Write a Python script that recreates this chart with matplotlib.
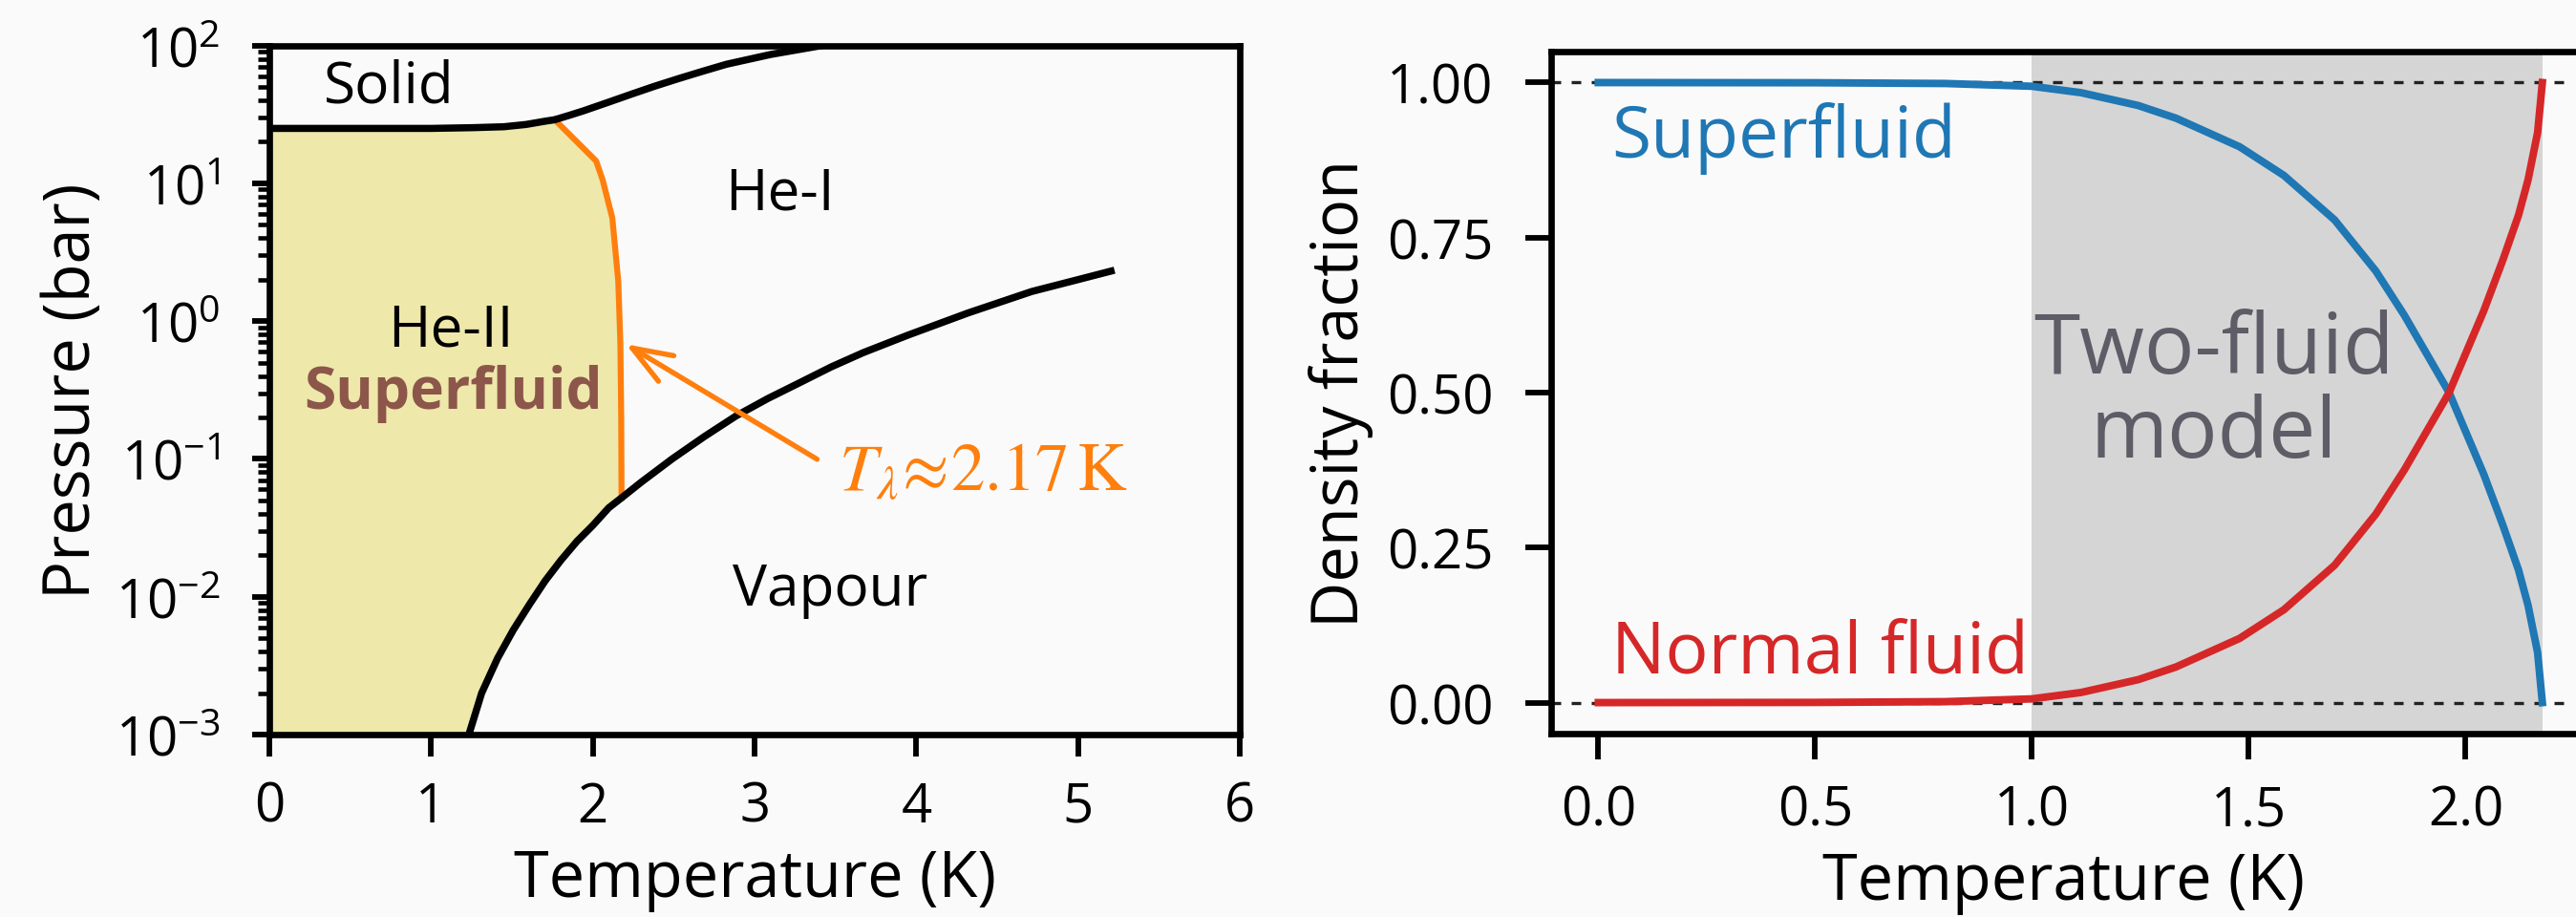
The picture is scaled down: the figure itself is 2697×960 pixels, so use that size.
import matplotlib
matplotlib.use('Agg')
import matplotlib.pyplot as plt
import numpy as np
from matplotlib.patches import Rectangle
from matplotlib.ticker import FormatStrFormatter

plt.rcParams['font.family'] = ['Open Sans', 'DejaVu Sans']
plt.rcParams['mathtext.fontset'] = 'custom'
plt.rcParams['mathtext.rm'] = 'Open Sans'
plt.rcParams['mathtext.it'] = 'Open Sans:italic'
plt.rcParams['mathtext.bf'] = 'Open Sans:bold'

# helium-4 phase boundaries
melt_T = [0.0, 0.5, 1.0, 1.253, 1.449, 1.587, 1.705, 1.764, 1.85, 1.941, 2.09, 2.236, 2.38,
          2.531, 2.68, 2.826, 3.1, 3.42, 3.6]
melt_P = [25.0, 25.0, 25.0, 25.3, 25.7, 26.7, 28.2, 28.9, 31.0, 33.5, 38.5, 44.2, 50.5,
          57.5, 65.0, 73.0, 86.0, 100.0, 108.0]

lambda_T = [1.764, 2.02, 2.06, 2.12, 2.157, 2.17, 2.175, 2.177]
lambda_P = [28.9, 14.5, 10.6, 5.6, 1.94, 0.68, 0.2, 0.0522]

vap_T = [1.233, 1.312, 1.41, 1.508, 1.607, 1.705, 1.803, 1.902, 2.0, 2.098, 2.177, 2.3, 2.491,
         2.688, 2.885, 3.081, 3.278, 3.475, 3.671, 3.947, 4.32, 4.714, 5.0, 5.225]
vap_P = [1.0e-3, 2.0e-3, 3.57e-3, 5.75e-3, 8.77e-3, 0.01306, 0.01845, 0.0253, 0.033, 0.0442,
         0.0522, 0.068, 0.1002, 0.145, 0.205, 0.274, 0.357, 0.466, 0.59, 0.79, 1.146, 1.64, 2.0, 2.34]

# two-fluid model fractions
T_frac = [0.0, 0.5, 0.8, 1.0, 1.113, 1.245, 1.332, 1.479, 1.581, 1.698, 1.793, 1.859,
          1.962, 2.042, 2.086, 2.122, 2.144, 2.166, 2.177]
normal = [0.0, 0.0003, 0.0015, 0.006, 0.0163, 0.037, 0.0574, 0.1036, 0.1498, 0.2216, 0.304, 0.3756,
          0.50, 0.632, 0.714, 0.786, 0.843, 0.919, 1.0]
superfluid = [1.0, 0.9997, 0.9985, 0.994, 0.9837, 0.963, 0.9426, 0.8964, 0.8502, 0.7784, 0.696, 0.6244,
              0.50, 0.368, 0.286, 0.214, 0.157, 0.081, 0.0]

bg = '#fafafa'
fig = plt.figure(figsize=(8.99, 3.2033), dpi=300, facecolor=bg)
ax1 = fig.add_axes([0.1046, 0.1987, 0.3767, 0.7508], facecolor=bg)
# the right panel is cut off by the figure edge in the original
ax2 = fig.add_axes([0.6022, 0.1998, 0.3978, 0.7430], facecolor=bg)

for ax in (ax1, ax2):
    for s in ax.spines.values():
        s.set_linewidth(1.6)
ax2.spines['right'].set_visible(False)

# --- left: phase diagram ---
fill_T = [0.0] + melt_T[:8] + lambda_T[1:] + vap_T[:11][::-1]
fill_P = [1e-3] + melt_P[:8] + lambda_P[1:] + vap_P[:11][::-1]
ax1.fill(fill_T, fill_P, color='palegoldenrod', lw=0, zorder=1)
ax1.plot(melt_T, melt_P, color='k', lw=1.8, zorder=3, solid_capstyle='butt')
ax1.plot(vap_T, vap_P, color='k', lw=1.8, zorder=3, solid_capstyle='butt')
ax1.plot(lambda_T, lambda_P, color='#ff7f0e', lw=1.5, zorder=2)

ax1.set_yscale('log')
ax1.set_xlim(0, 6)
ax1.set_ylim(1e-3, 1e2)
ax1.set_xticks(range(7))
ax1.tick_params(axis='x', which='major', length=5.5, width=1.4, pad=6, labelsize=13.5)
ax1.tick_params(axis='y', which='major', length=4.4, width=1.4, pad=8, labelsize=13.5)
ax1.tick_params(axis='y', which='minor', length=3, width=1.1)
ax1.set_xlabel('Temperature (K)', fontsize=16, labelpad=3)
ax1.set_ylabel('Pressure (bar)', fontsize=16, labelpad=2.5)

ax1.text(0.74, 50, 'Solid', fontsize=14.5, ha='center', va='center')
ax1.text(3.155, 8.5, 'He-I', fontsize=14.5, ha='center', va='center')
ax1.text(1.12, 0.86, 'He-II', fontsize=14.5, ha='center', va='center')
ax1.text(1.134, 0.30, 'Superfluid', fontsize=14.5, ha='center', va='center',
         color='#8c564b', fontweight='bold')
ax1.text(3.466, 0.0113, 'Vapour', fontsize=14.5, ha='center', va='center')
ax1.annotate(r'$T_\lambda\!\approx\!2.17\,\mathrm{K}$', xy=(2.203, 0.68), xytext=(3.52, 0.08),
             fontsize=17, color='#ff7f0e', ha='left', va='center', math_fontfamily='stix',
             arrowprops=dict(arrowstyle='->,head_length=0.4,head_width=0.15', color='#ff7f0e',
                             lw=1.3, mutation_scale=25, relpos=(0, 0.5), shrinkA=4, shrinkB=0))

# --- right: two-fluid model ---
ax2.axvspan(1.0, 2.177, color='#d5d5d5', lw=0, zorder=0)
ax2.axhline(0, color='#222222', lw=0.8, ls=(0, (3, 3.3)), zorder=1)
ax2.axhline(1, color='#222222', lw=0.8, ls=(0, (3, 3.3)), zorder=1)
ax2.plot(T_frac, superfluid, color='#1f77b4', lw=1.9, zorder=3)
ax2.plot(T_frac, normal, color='#d62728', lw=1.9, zorder=3)

ax2.set_xlim(-0.1085, 2.2546)
ax2.set_xticks([0.0, 0.5, 1.0, 1.5, 2.0])
ax2.set_yticks([0.0, 0.25, 0.5, 0.75, 1.0])
ax2.xaxis.set_major_formatter(FormatStrFormatter('%.1f'))
ax2.yaxis.set_major_formatter(FormatStrFormatter('%.2f'))
ax2.tick_params(axis='x', length=6.5, width=1.4, pad=6, labelsize=13.5)
ax2.tick_params(axis='y', length=6.5, width=1.4, pad=8, labelsize=13.5)
ax2.set_xlabel('Temperature (K)', fontsize=16, labelpad=3)
ax2.set_ylabel('Density fraction', fontsize=16, labelpad=3.5)

ax2.text(0.03, 0.88, 'Superfluid', color='#1f77b4', fontsize=18, va='baseline')
ax2.text(0.03, 0.05, 'Normal fluid', color='#d62728', fontsize=18, va='baseline')
ax2.text(1.42, 0.5, 'Two-fluid\nmodel', ha='center', va='center', fontsize=21,
         color='#5e5c66', linespacing=1.0)

# blank the few pixels at the right edge between the top and bottom spines
fig.add_artist(Rectangle((0.9963, 0.2040), 0.0037, 0.7346, transform=fig.transFigure,
                         facecolor=bg, edgecolor='none', zorder=10))

fig.savefig('out.png', dpi=300, facecolor=bg)
